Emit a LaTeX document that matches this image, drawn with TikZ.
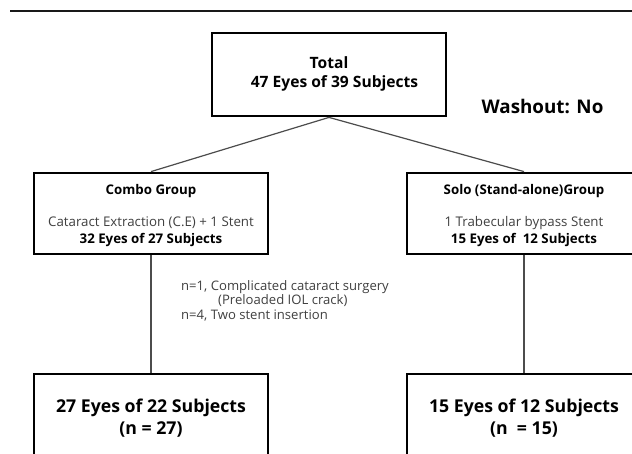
\documentclass[tikz,border=0pt]{standalone}
\usepackage{fontspec}
\setmainfont{Open Sans}
\begin{document}
\begin{tikzpicture}[x=1pt,y=-1pt,
  box/.style={draw=black, line width=2.8pt, rectangle, minimum width=234pt, inner sep=0pt},
  btext/.style={align=center, inner sep=0pt, text=black},
  conn/.style={draw=black!70, line width=1.2pt}]
\useasboundingbox (0,0) rectangle (632,454);
\fill[white] (0,0) rectangle (632,454);
\coordinate (rl) at (10,11);
\coordinate (rr) at (632,11);
\draw[line width=2.2pt, black!90] (rl) -- (rr);
% boxes
\node[box, minimum height=83pt] (total) at (329,74.5) {};
\node[box, minimum height=81pt] (combo) at (151,213.5) {};
\node[box, minimum height=81pt] (solo) at (524,213.5) {};
\node[box, minimum height=81pt] (bl) at (151,414.5) {};
\node[box, minimum height=81pt] (br) at (524,414.5) {};
% box texts
\node[btext, font=\fontsize{15.6}{19}\selectfont\bfseries] (totaltxt) at ([yshift=0.5pt]total.center)
  {Total\\\hspace*{11pt}47 Eyes of 39 Subjects};
\node[btext, font=\fontsize{13.3}{17}\selectfont] (combotxt) at ([yshift=-2.5pt]combo.center)
  {\bfseries Combo Group\\[15pt]
   \color{black!75}Cataract Extraction (C.E) + 1 Stent\\
   \bfseries 32 Eyes of 27 Subjects};
\node[btext, font=\fontsize{13.3}{17}\selectfont] (solotxt) at ([yshift=-2.5pt]solo.center)
  {\bfseries Solo (Stand-alone)Group\\[15pt]
   \color{black!75}1 Trabecular bypass Stent\\
   \bfseries 15 Eyes of \ 12 Subjects};
\node[btext, font=\fontsize{17.7}{22}\selectfont\bfseries] (bltxt) at ([yshift=-3.5pt]bl.center)
  {27 Eyes of 22 Subjects\\(n = 27)};
\node[btext, font=\fontsize{17.7}{22}\selectfont\bfseries] (brtxt) at ([yshift=-3.5pt]br.center)
  {15 Eyes of 12 Subjects\\(n \ = 15)};
% labels
\node[anchor=center, font=\fontsize{18.8}{22}\selectfont\bfseries] (wash) at (542.5,106.5) {Washout: No};
\node[anchor=north west, align=left, inner sep=0pt, text=black!75,
      font=\fontsize{13.1}{14.5}\selectfont] (note) at (181,280)
  {n=1, Complicated cataract surgery\\\hspace*{37pt}(Preloaded IOL crack)\\n=4, Two stent insertion};
% connectors
\draw[conn] (total.south) -- (combo.north);
\draw[conn] (total.south) -- (solo.north);
\draw[conn] (combo.south) -- (bl.north);
\draw[conn] (solo.south) -- (br.north);
\end{tikzpicture}
\end{document}
